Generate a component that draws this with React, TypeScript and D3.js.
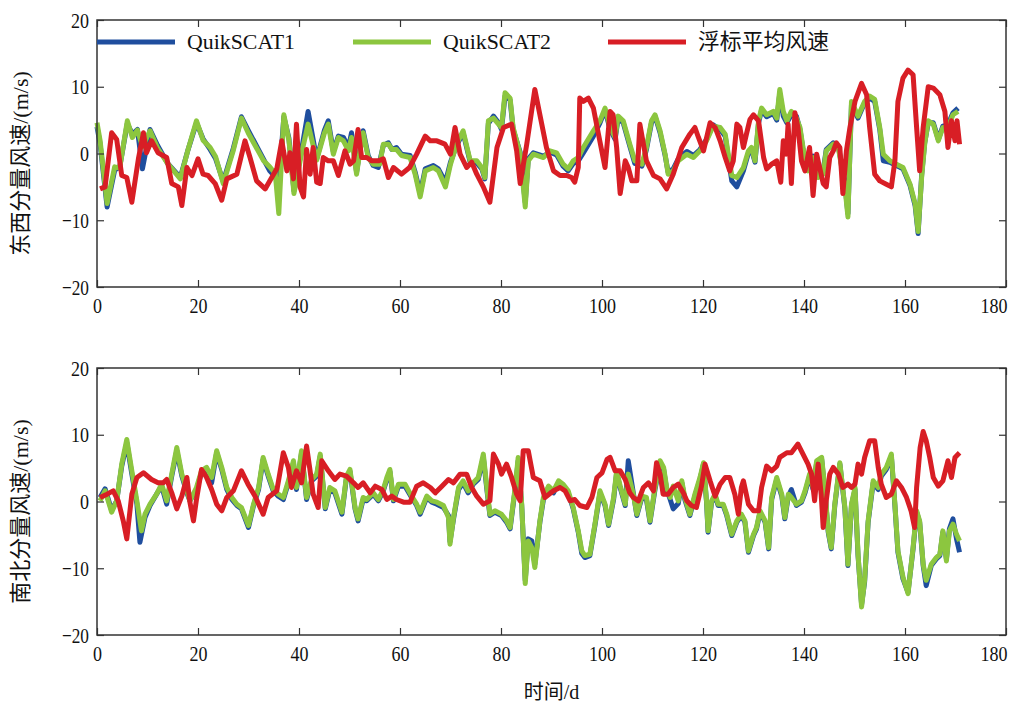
import React, { useEffect, useRef } from 'react';
import * as d3 from 'd3';

type Pt = [number, number];

const seriesNames = ['QuikSCAT1', 'QuikSCAT2', '浮标平均风速'];
const seriesColors = ['#1f4e9e', '#8cc63f', '#d81e25'];
const xTicks = [0, 20, 40, 60, 80, 100, 120, 140, 160, 180];
const yTicks = [-20, -10, 0, 10, 20];
const panelTitles = ['东西分量风速/(m/s)', '南北分量风速/(m/s)'];
const xTitle = '时间/d';

// 东西分量 (east-west component)
const ewQuik1: Pt[] = [[0,4],[0.6,1.5],[2,-8],[3.5,-2.5],[4.5,-2],[6,4.5],[7,2.9],[8,3.6],[9,-2.3],[10.5,3.6],[12,1.2],[14,-1.5],[16.5,-3.6],[18,0.5],[19.7,4.6],[21,2.2],[22.4,0.6],[23.5,-0.8],[25,-4.2],[27,0.8],[28.6,5.5],[30,3.4],[33,-0.9],[34.2,-2.6],[35.3,-3.5],[36,-4.6],[37,5.5],[38,2.3],[39,-5.6],[40.5,0.5],[41.8,6.3],[43.5,-0.8],[45,3.4],[45.8,4.9],[46.8,0.3],[47.8,2.6],[48.8,2.4],[49.8,0.9],[50.4,3.1],[51.4,-2.8],[52,0.2],[52.7,3.4],[53.7,-0.3],[54.7,-1.8],[55.7,-2.1],[56.7,1.2],[57.7,1.6],[58.4,0.6],[59.3,0.9],[60.3,-0.1],[62,-0.3],[63,-2.8],[64,-6],[65,-2.3],[66.6,-1.8],[67.6,-2.3],[69,-4.3],[70,-1.3],[71.2,1.2],[72.5,3.1],[73.9,-1.3],[75.2,-1.4],[76.2,-2.3],[76.8,-3.8],[77.5,4.5],[78.5,5.6],[79.5,4.6],[80.1,3.6],[80.8,8.6],[81.8,8],[82.4,3.6],[83.8,0.2],[84.8,-7.3],[85.4,-0.8],[86.4,0.1],[88.4,-0.4],[89.7,0.2],[91,-0.2],[92.3,-1.9],[93.3,-2.6],[94.3,-1.5],[95.3,-1.1],[96.3,0.1],[98.3,2.6],[99.6,4.6],[100.6,6.5],[101.6,3.6],[102.6,2.1],[103.2,5.3],[104.2,4.6],[105.5,1.1],[106.5,-1.5],[107.9,-1.9],[108.8,0.6],[109.8,4.6],[110.5,5.6],[111.5,3.1],[112.5,-0.3],[113.1,-2.8],[114.1,-2.3],[115.1,-0.8],[116.8,0.3],[118.1,-0.3],[119.4,0.6],[120.7,2.1],[122,4.3],[123.4,3.6],[124.4,2.6],[125,-0.6],[125.7,-4.1],[126.7,-5],[128,-2.6],[129,0.1],[129.6,0.6],[130.3,-1.3],[131,4.6],[131.6,6.5],[132.6,5.5],[133.9,6],[134.6,5],[135.2,9],[135.9,5.6],[136.6,4.6],[137.5,5.8],[138.5,5.6],[139.2,3.6],[139.8,0.6],[140.8,-2.3],[141.8,-0.4],[142.8,-3.3],[143.8,-2.6],[144.4,0.6],[145.8,1.6],[146.8,1.1],[148.1,-4.6],[148.7,-9],[149.4,7.3],[150.7,5.3],[152,7.6],[153,8.3],[154,7.8],[155,3.6],[155.7,-1.1],[157,-1.3],[158.3,-1.8],[159.6,-2.3],[161,-4.8],[162,-7.8],[162.6,-12],[163.3,-3.2],[163.9,1.6],[164.6,4.6],[165.6,4.6],[166.6,2.1],[167.5,4.1],[168.5,4.3],[169.5,6.1],[170.5,6.8]];

const ewQuik2: Pt[] = [[0,4.6],[0.6,2],[2,-7.5],[3.5,-2],[4.5,-2.2],[6,4.9],[7,2.4],[8,3.5],[9,1],[10.5,3.4],[12,0.8],[14,-1.5],[16.5,-3.8],[18,0.5],[19.7,4.9],[21,2],[22.4,0.9],[23.5,-0.5],[25,-4.5],[27,0.5],[28.6,5.3],[30,3],[33,-1.1],[34.2,-2],[35.3,-3],[36,-9],[37,5.8],[38,2],[39,-6],[40.5,0],[41.8,4.4],[43.5,-1],[45,3],[45.8,4.4],[46.8,-0.1],[47.8,2.4],[48.8,1.9],[49.8,0.4],[50.4,2.4],[51.4,-3.1],[52,0],[52.7,3.1],[53.7,-0.6],[54.7,-1.6],[56,-1.6],[56.7,1.4],[57.7,1.4],[58.4,0.6],[59.3,0.6],[60.3,-0.3],[62,-0.6],[63,-3.1],[64,-6.5],[65,-2.6],[66.6,-2.1],[67.6,-2.6],[69,-5],[70,-1.6],[71.2,1.4],[72.5,3.4],[73.9,-1.1],[75.2,-1.1],[76.2,-2.1],[76.8,-3.6],[77.5,4.9],[78.5,5.3],[79.5,4.4],[80.1,3.9],[80.8,9.1],[81.8,8.3],[82.4,3.9],[83.8,-0.1],[84.8,-8],[85.4,-1.1],[86.4,-0.1],[88.4,-0.6],[89.7,0.4],[91,0.1],[92.3,-1.6],[93.3,-2.3],[94.3,-1.1],[95.3,-0.6],[96.3,0.9],[98.3,3.4],[99.6,4.9],[100.6,6.8],[101.6,3.9],[102.6,2.4],[103.2,5.6],[104.2,4.9],[105.5,1.4],[106.5,-1.1],[107.9,-1.6],[108.8,0.9],[109.8,4.9],[110.5,5.8],[111.5,3.4],[112.5,-0.1],[113.1,-3.1],[114.1,-2.6],[115.1,-1.1],[116.8,-0.1],[118.1,-0.6],[119.4,0.4],[120.7,1.9],[122,4.1],[123.4,3.9],[124.4,2.9],[125,-0.1],[125.7,-3.3],[126.7,-3.6],[128,-2.1],[129,0.4],[129.6,0.9],[130.3,-1.1],[131,4.9],[131.6,6.8],[132.6,5.8],[133.9,6.3],[134.6,5.3],[135.2,9.6],[135.9,6.3],[136.6,4.9],[137.5,6.3],[138.5,5.3],[139.2,3.9],[139.8,0.9],[140.8,-2.6],[141.8,-0.6],[142.8,-3.6],[143.8,-3.1],[144.4,0.4],[145.8,1.4],[146.8,0.9],[148.1,-5],[148.7,-9.5],[149.4,7.8],[150.7,5.6],[152,7.8],[153,8.6],[154,8.1],[155,3.9],[155.7,-0.1],[157,-1.1],[158.3,-1.6],[159.6,-2.1],[161,-4.6],[162,-7.5],[162.6,-11.7],[163.3,-3.5],[163.9,1.4],[164.6,4.9],[165.6,4.4],[166.6,1.9],[167.5,3.9],[168.5,3.9],[169.5,5.8],[170.5,6.3]];

const ewBuoy: Pt[] = [[0.6,-5.3],[1.6,-5],[2.9,3.1],[3.9,2.1],[4.9,-3.3],[5.9,-3.6],[6.9,-7.3],[8.2,-0.8],[9.2,3.1],[9.8,0.1],[10.8,1.9],[12.1,0.1],[13.8,-0.6],[14.8,-4.5],[16.1,-5],[16.8,-7.8],[17.8,-2.1],[18.8,-3.3],[20,-0.8],[21,-3.1],[22,-3.3],[23.4,-4.5],[24.7,-7],[25.7,-3.8],[27.7,-3.1],[29.3,1.9],[30.3,-0.6],[31.6,-4.1],[33.3,-5.3],[34.6,-3.6],[35.6,-2.3],[36.6,1.9],[37.6,-2.6],[38.2,0.1],[38.9,-3.8],[39.5,4.4],[40.2,-5],[40.9,-6.5],[41.5,0.6],[42.2,-3.1],[42.8,0.9],[43.5,-4.3],[44.2,-4.5],[44.8,-0.6],[45.8,-1.1],[46.8,-1.1],[47.8,-3.3],[49.1,0.4],[50.1,-1.6],[50.8,-1.1],[51.7,3.6],[52.4,-0.6],[53.4,-0.6],[54.4,-1.1],[55.7,-1.1],[56.7,-0.8],[57.7,-3.6],[58.7,-2.1],[60.3,-3.1],[61.9,-2.1],[63.3,-0.1],[65,2.6],[66,1.9],[67.3,1.9],[68.9,1.4],[70,-0.1],[70.9,3.9],[71.9,-0.1],[73.2,-2.1],[74.2,-1.3],[75.2,-3.1],[76.5,-5],[77.8,-7.3],[79.2,0.9],[80.5,3.9],[82.1,4.4],[83.1,0.4],[83.8,-4.5],[85.1,1.4],[86.7,9.6],[87.7,5.8],[89,0.9],[90.4,-2.6],[91.7,-3.3],[93,-3.3],[94,-3.6],[94.6,-4.3],[95.3,-2.1],[95.6,8.3],[96.3,7.8],[97.3,8.3],[98.3,6.8],[99.3,2.9],[100.6,-2.1],[101.6,6.3],[102.2,5.8],[102.9,0.9],[103.6,-6],[104.6,-1.1],[105.2,-2.1],[105.9,-4.1],[106.9,-4.1],[107.5,4.4],[108.2,1.4],[108.8,-1.1],[110.2,-3.3],[111.5,-3.8],[112.8,-5.3],[114.1,-3.1],[115.8,0.9],[117.4,2.9],[118.4,3.9],[119.1,2.4],[120.1,0.4],[121.4,4.6],[122.4,3.9],[123.4,1.9],[124.4,-0.6],[125.3,-2.6],[126,-1.1],[126.7,4.4],[127.3,3.9],[128,0.9],[128.6,2.9],[129.3,5.1],[130,5.8],[131,4.9],[132,-0.6],[132.6,-2.3],[133.6,-1.6],[134.6,-1.1],[135.4,-4.3],[135.9,1.9],[136.5,-0.1],[136.85,4.4],[137.5,-4.5],[138.2,6.1],[138.8,3.9],[139.5,-1.1],[140.2,-2.6],[141.1,0.9],[141.8,-6.3],[142.5,-0.1],[143.1,-2.1],[143.8,-4.5],[144.4,-5],[145.1,-0.6],[145.8,0.4],[146.4,1.6],[147.1,0.9],[147.7,-6],[148.4,0.4],[149.1,3.9],[150.1,7.8],[151.4,10.5],[152.4,8.8],[153,3.9],[154,-3.1],[155,-4.1],[156.3,-4.6],[157.3,-5],[158,-1.1],[158.6,7.8],[159.6,11.3],[160.6,12.5],[161.6,11.8],[162.3,3.9],[162.9,-2.6],[163.6,3.9],[164.6,10],[165.6,9.8],[166.9,8.8],[167.9,6.3],[168.5,0.9],[169.2,4.9],[169.9,1.9],[170.3,4.9],[170.8,1.4]];

// 南北分量 (north-south component)
const nsQuik1: Pt[] = [[0.6,0.6],[1.6,1.9],[2.9,-1.3],[3.9,0.1],[4.9,5.3],[5.9,8.8],[6.9,4.1],[7.9,-0.4],[8.5,-6.1],[9.5,-2.4],[10.5,-0.6],[11.8,1.1],[12.8,2.3],[13.8,-0.4],[14.8,3.8],[15.8,7.6],[16.8,3.8],[17.8,1.3],[18.4,0.1],[19.7,1.8],[20.7,4.3],[21.7,4.8],[22.7,2.8],[23.7,7.3],[24.7,4.8],[25.7,1.8],[26.7,0.3],[27.7,-0.6],[28.6,-1.1],[30,-3.9],[31,-0.6],[32,1.8],[32.9,6.3],[33.9,3.8],[34.9,1.6],[35.9,0.8],[36.9,0.3],[37.9,2.8],[38.9,5.8],[39.5,1.8],[40.5,7.3],[41.5,0.3],[42.5,3.1],[43.5,3.8],[44.2,6.8],[45.2,-1.1],[46.1,1.8],[47.1,1.3],[48.5,-1.9],[49.4,3.6],[50.1,4.5],[51.1,-1.1],[51.7,-2.9],[52.7,0.3],[53.4,0.1],[54.7,1.1],[55.7,0.1],[56.7,1.6],[57.4,3.3],[58,4.5],[58.7,0.1],[59.7,2.3],[61,2.3],[62.3,0.6],[63.3,-0.6],[64,-1.9],[65.3,0.6],[66.3,-0.1],[67.3,-0.4],[68.6,-0.9],[69.6,-2.1],[69.9,-6],[70.6,-2.6],[71.6,1.8],[72.5,2.8],[73.5,1.3],[74.5,2.6],[75.5,3.3],[76.5,6.6],[77.2,1.8],[77.8,-2.1],[78.8,-1.6],[80.1,-2.1],[81.1,-3.1],[81.8,-4.1],[82.8,1.8],[83.4,6.1],[84.1,-0.6],[84.8,-11.8],[85.4,-5.6],[86.1,-5.9],[86.7,-9.4],[87.7,-3.1],[88.4,0.3],[89.4,2.1],[90.4,1.3],[91.4,2.8],[92.3,2.3],[93.3,1.3],[94.3,-1.1],[95.3,-4.6],[96,-7.8],[96.6,-8.4],[97.6,-8.1],[98.6,-3.6],[99.6,1.3],[100.6,-0.6],[101.3,-3.6],[102.3,0.3],[102.9,4.3],[103.6,2.1],[104.6,-0.6],[105.2,6.1],[106.2,1.3],[106.9,-2.1],[107.9,0.6],[108.8,0.3],[109.5,-3.1],[110.5,1.8],[111.5,5.8],[112.2,4.8],[112.8,1.8],[113.5,0.3],[114.1,-1.1],[115.1,-0.3],[115.8,2.8],[116.4,0.3],[117.4,-2.1],[118.4,0.8],[119.4,3.3],[120.1,5.6],[120.7,-0.1],[121,-4.6],[121.7,-0.1],[122.4,0.8],[123,-0.6],[124,-0.6],[124.7,-2.1],[125.7,-5.1],[126.7,-3.1],[127.6,-2.1],[128.3,-3.1],[129,-7.6],[130,-5.1],[130.6,-4.1],[131.3,-1.6],[132.3,-3.1],[133,-7.1],[133.6,0.3],[134.6,3.3],[135.6,0.8],[136.2,-2.6],[136.9,0.8],[137.5,1.8],[138.5,-0.6],[139.5,-0.1],[140.2,1.3],[141.1,3.8],[141.8,1.8],[142.5,5.8],[143.5,6.3],[144.1,1.8],[144.8,-4.6],[145.4,-7.1],[146.1,-0.6],[147.1,5.6],[148.1,-1.1],[148.7,-9.6],[149.4,-0.6],[150.1,1.8],[150.7,-8.1],[151.4,-15.4],[152,-12.1],[152.7,-3.1],[153.7,2.8],[154.7,1.8],[155.3,3.8],[156.3,4.8],[157.3,6.8],[158,-0.6],[158.6,-7.6],[159.6,-11.6],[160.6,-13.6],[161.6,-7.1],[162.3,-1.6],[162.9,-3.1],[163.6,-9.6],[164.2,-12.6],[165.2,-9.6],[166.2,-8.6],[166.9,-8.1],[167.5,-4.6],[168.2,-8.6],[168.8,-4.1],[169.5,-2.6],[170.2,-5.6],[170.8,-7.6]];

const nsQuik2: Pt[] = [[0.6,0.1],[1.6,1.6],[2.9,-1.6],[3.9,0.1],[4.9,5.6],[5.9,9.3],[6.9,4.6],[7.9,0.1],[8.8,-4.4],[9.5,-1.9],[10.5,-0.4],[11.8,1.1],[12.8,2.6],[13.8,0.1],[14.8,4.1],[15.8,8.1],[16.8,4.1],[17.8,1.6],[18.4,0.1],[19.7,2.1],[20.7,4.6],[21.7,5.1],[22.7,3.6],[23.7,7.6],[24.7,5.1],[25.7,2.1],[26.7,0.6],[27.7,-0.4],[28.6,-0.9],[30,-3.6],[31,-0.4],[32,2.1],[32.9,6.6],[33.9,4.1],[34.9,1.8],[35.9,1.1],[36.9,0.6],[37.9,3.1],[38.9,6.1],[39.5,2.1],[40.5,7.6],[41.5,0.6],[42.5,3.3],[43.5,4.1],[44.2,7.1],[45.2,-0.9],[46.1,2.1],[47.1,1.6],[48.5,-1.6],[49.4,3.8],[50.1,4.8],[51.1,-0.9],[51.7,-2.6],[52.7,0.6],[53.4,0.3],[54.7,1.3],[55.7,0.3],[56.7,1.8],[57.4,3.6],[58,4.8],[58.7,0.3],[59.7,2.6],[61,2.6],[62.3,0.8],[63.3,-0.4],[64,-1.6],[65.3,0.8],[66.3,0.1],[67.3,-0.1],[68.6,-0.6],[69.6,-2.4],[69.9,-6.4],[70.6,-2.4],[71.6,2.1],[72.5,3.1],[73.5,1.6],[74.5,2.8],[75.5,3.6],[76.5,7.1],[77.2,2.1],[77.8,-1.9],[78.8,-1.4],[80.1,-1.9],[81.1,-2.9],[81.8,-3.9],[82.8,2.1],[83.4,6.6],[84.1,-0.4],[84.8,-12.3],[85.4,-5.9],[86.1,-6.9],[86.7,-9.9],[87.7,-2.9],[88.4,0.6],[89.4,2.3],[90.4,1.6],[91.4,3.1],[92.3,2.6],[93.3,1.6],[94.3,-0.9],[95.3,-4.4],[96,-7.4],[96.6,-8.1],[97.6,-7.9],[98.6,-3.4],[99.6,1.6],[100.6,-0.4],[101.3,-3.4],[102.3,0.6],[102.9,4.6],[103.6,2.3],[104.6,-0.4],[105.2,4.1],[106.2,1.1],[106.9,-1.9],[107.9,0.8],[108.8,0.6],[109.5,-2.9],[110.5,2.1],[111.5,6.1],[112.2,5.1],[112.8,2.1],[113.5,0.6],[114.1,2.3],[115.1,0.1],[115.8,3.1],[116.4,0.6],[117.4,-1.9],[118.4,1.1],[119.4,3.6],[120.1,5.8],[120.7,0.1],[121,-4.4],[121.7,0.1],[122.4,1.1],[123,-0.4],[124,-0.4],[124.7,-1.9],[125.7,-4.9],[126.7,-2.9],[127.6,-1.9],[128.3,-2.9],[129,-7.4],[130,-4.9],[130.6,-3.9],[131.3,-1.4],[132.3,-2.9],[133,-6.9],[133.6,0.6],[134.6,3.6],[135.6,1.1],[136.2,-2.4],[136.9,1.1],[137.5,0.6],[138.5,-0.4],[139.5,0.1],[140.2,1.6],[141.1,4.1],[141.8,2.1],[142.5,6.1],[143.5,6.6],[144.1,2.1],[144.8,-4.4],[145.4,-6.9],[146.1,-0.4],[147.1,5.8],[148.1,-0.9],[148.7,-9.4],[149.4,-0.4],[150.1,2.1],[150.7,-7.9],[151.4,-15.8],[152,-11.8],[152.7,-2.9],[153.7,3.1],[154.7,2.1],[155.3,4.1],[156.3,5.1],[157.3,7.1],[158,-0.4],[158.6,-7.4],[159.6,-11.3],[160.6,-13.8],[161.6,-6.9],[162.3,-1.4],[162.9,-2.9],[163.6,-9.4],[164.2,-11.8],[165.2,-9.4],[166.2,-8.4],[166.9,-7.9],[167.5,-4.4],[168.2,-8.9],[168.8,-4.4],[169.5,-3.4],[170.2,-4.9],[170.8,-5.9]];

const nsBuoy: Pt[] = [[0.6,0.6],[2,1.1],[3.2,1.6],[4.2,0.1],[5.2,-2.9],[5.9,-5.6],[6.9,1.1],[7.9,3.6],[9.2,4.3],[10.8,3.3],[12.1,2.8],[13.1,2.8],[13.8,3.3],[14.8,1.3],[15.8,-1.1],[16.8,0.8],[17.8,3.6],[18.4,-0.1],[19.1,-2.9],[19.7,0.3],[20.7,4.8],[21.7,3.6],[22.7,1.8],[23.7,-0.4],[24.7,-1.4],[25.7,0.6],[27,1.6],[28.6,4.6],[29.9,2.6],[31.3,0.8],[32.9,-1.9],[33.9,0.6],[35.6,1.6],[36.9,7.3],[37.9,5.1],[38.5,2.1],[39.5,4.6],[40.5,2.8],[41.5,8.3],[42.2,4.6],[42.8,1.1],[43.8,-0.9],[44.5,6.1],[45.8,4.6],[47.1,3.3],[48.1,4.1],[49.4,3.8],[50.8,2.8],[51.7,2.1],[52.7,2.8],[54.1,1.3],[55.1,2.3],[56.4,1.8],[57.4,0.3],[58.4,0.8],[59.3,0.3],[60.7,-0.1],[62,-0.1],[63.3,2.3],[64.6,2.8],[66,2.1],[67,1.3],[68.3,2.3],[69.6,3.3],[70.6,2.8],[71.9,4.1],[73.2,4.1],[74.2,2.1],[75.2,0.8],[76.5,-0.4],[77.8,0.1],[78.5,7.1],[79.5,5.6],[80.1,4.1],[81.1,5.6],[82.1,3.6],[83.1,1.1],[83.8,0.1],[84.4,7.6],[85.4,7.6],[86.4,3.6],[87.7,3.1],[88.7,0.6],[90.4,1.6],[91.7,2.1],[92.7,1.6],[93.7,0.1],[94.6,0.3],[95.6,-0.6],[97,-0.9],[98,0.6],[99,3.6],[100,4.3],[101,6.3],[101.6,6.6],[102.6,4.6],[103.6,4.6],[104.6,3.3],[105.5,1.3],[106.2,0.6],[107.2,0.1],[108.2,2.1],[109.2,2.8],[110.2,1.6],[110.8,5.8],[111.5,4.1],[112.1,1.1],[113.1,1.1],[114.1,2.1],[115.1,2.6],[116.1,1.3],[116.8,0.1],[117.7,-0.6],[118.7,-0.9],[119.7,2.3],[120.4,5.6],[121.4,3.1],[122.4,0.8],[123.4,2.6],[124.4,3.6],[125.3,3.6],[126.3,1.1],[127,-1.9],[127.6,2.1],[128,3.1],[129,-0.4],[130,-1.4],[131,-1.4],[131.6,2.1],[132.6,5.3],[133.6,4.6],[134.6,5.3],[135.2,6.6],[136.6,7.3],[137.5,7.3],[138.8,8.6],[139.8,7.1],[140.8,5.6],[141.5,4.1],[142.1,0.1],[142.8,5.6],[143.4,1.1],[143.8,-3.9],[144.4,0.1],[145.1,4.1],[145.8,5.1],[146.8,4.1],[147.7,2.1],[148.7,2.6],[149.4,2.1],[150.1,2.6],[150.7,5.6],[151.4,4.1],[152,6.6],[153,9.1],[154,9.1],[154.7,5.1],[155.3,2.6],[156.3,0.6],[157.3,1.1],[158.3,3.1],[159.3,2.1],[160.3,0.6],[161.2,-1.4],[161.9,-3.9],[162.3,2.1],[163,8.1],[163.6,10.5],[164.2,9.1],[164.9,6.6],[165.6,3.6],[166.6,2.3],[167.5,3.1],[168.5,6.1],[169.2,3.6],[169.9,6.6],[170.8,7.3]];

const panels = [
  { title: panelTitles[0], series: [ewQuik1, ewQuik2, ewBuoy] },
  { title: panelTitles[1], series: [nsQuik1, nsQuik2, nsBuoy] },
];

const W = 1024;
const H = 704;
const margin = { left: 97, right: 18 };
const panelTops = [20, 368];
const panelHeight = 267;
const FONT = "'Liberation Serif', 'Times New Roman', 'Noto Sans CJK SC', serif";

// squeeze numbers a bit, like the narrow serif in the original
const squeeze = (sel: d3.Selection<any, any, any, any>) =>
  sel.attr('textLength', function () {
    const t = (this as SVGTextElement).textContent || '';
    return t.length * 9;
  }).attr('lengthAdjust', 'spacingAndGlyphs');

const App = () => {
  const svgRef = useRef<SVGSVGElement>(null);

  useEffect(() => {
    const svg = d3.select(svgRef.current);
    svg.selectAll('*').remove();

    const x = d3.scaleLinear().domain([0, 180]).range([margin.left, W - margin.right]);

    panels.forEach((panel, pi) => {
      const top = panelTops[pi];
      const y = d3.scaleLinear().domain([-20, 20]).range([top + panelHeight, top]);
      const g = svg.append('g');

      const line = d3.line<Pt>()
        .x(d => x(d[0]))
        .y(d => y(d[1]));

      panel.series.forEach((s, si) => {
        g.append('path')
          .datum(s)
          .attr('fill', 'none')
          .attr('stroke', seriesColors[si])
          .attr('stroke-width', 5)
          .attr('stroke-linejoin', 'round')
          .attr('d', line);
      });

      // axes, ticks pointing inward
      const bottom = g.append('g')
        .attr('transform', `translate(0,${top + panelHeight})`)
        .call(d3.axisBottom(x).tickValues(xTicks).tickSizeInner(-7).tickSizeOuter(0).tickPadding(10));
      g.append('g')
        .attr('transform', `translate(0,${top})`)
        .call(d3.axisTop(x).tickValues(xTicks).tickSizeInner(-7).tickSizeOuter(0).tickFormat(() => ''));
      const left = g.append('g')
        .attr('transform', `translate(${margin.left},0)`)
        .call(d3.axisLeft(y).tickValues(yTicks).tickSizeInner(-7).tickSizeOuter(0).tickPadding(8));
      g.append('g')
        .attr('transform', `translate(${W - margin.right},0)`)
        .call(d3.axisRight(y).tickValues(yTicks).tickSizeInner(-7).tickSizeOuter(0).tickFormat(() => ''));

      g.selectAll('.domain').remove();
      g.selectAll('.tick line').attr('stroke', '#333').attr('stroke-width', 1.2);
      g.selectAll('.tick text')
        .attr('font-family', FONT)
        .attr('font-size', 22)
        .attr('fill', '#111');
      squeeze(bottom.selectAll('.tick text'));
      squeeze(left.selectAll('.tick text'));

      // last x label ends at the box edge, as in the original
      bottom.selectAll<SVGTextElement, number>('.tick text')
        .filter(d => d === xTicks[xTicks.length - 1])
        .attr('text-anchor', 'end')
        .attr('x', 1);

      g.append('rect')
        .attr('x', margin.left)
        .attr('y', top)
        .attr('width', W - margin.right - margin.left)
        .attr('height', panelHeight)
        .attr('fill', 'none')
        .attr('stroke', '#333')
        .attr('stroke-width', 1.5);

      g.append('text')
        .attr('transform', `translate(28,${top + panelHeight / 2 + 10}) rotate(-90)`)
        .attr('text-anchor', 'middle')
        .attr('font-family', FONT)
        .attr('font-size', 22)
        .attr('fill', '#111')
        .text(panel.title);
    });

    // legend sits inside the top panel
    const legendX = [97, 353, 608];
    const legendY = 42;
    const legendW = [108, 108, 131];
    const lg = svg.append('g');
    seriesNames.forEach((name, i) => {
      lg.append('line')
        .attr('x1', legendX[i])
        .attr('x2', legendX[i] + 78)
        .attr('y1', legendY)
        .attr('y2', legendY)
        .attr('stroke', seriesColors[i])
        .attr('stroke-width', 5);
      lg.append('text')
        .attr('x', legendX[i] + 90)
        .attr('y', legendY + 7)
        .attr('font-family', FONT)
        .attr('font-size', 22)
        .attr('fill', '#111')
        .attr('textLength', legendW[i])
        .attr('lengthAdjust', 'spacingAndGlyphs')
        .text(name);
    });

    svg.append('text')
      .attr('x', (margin.left + W - margin.right) / 2)
      .attr('y', 699)
      .attr('text-anchor', 'middle')
      .attr('font-family', FONT)
      .attr('font-size', 20)
      .attr('fill', '#111')
      .text(xTitle);
  }, []);

  return (
    <div style={{ position: 'absolute', left: 0, top: 0, width: W, height: H, background: '#fff' }}>
      <svg ref={svgRef} width={W} height={H}></svg>
    </div>
  );
};

export default App;
